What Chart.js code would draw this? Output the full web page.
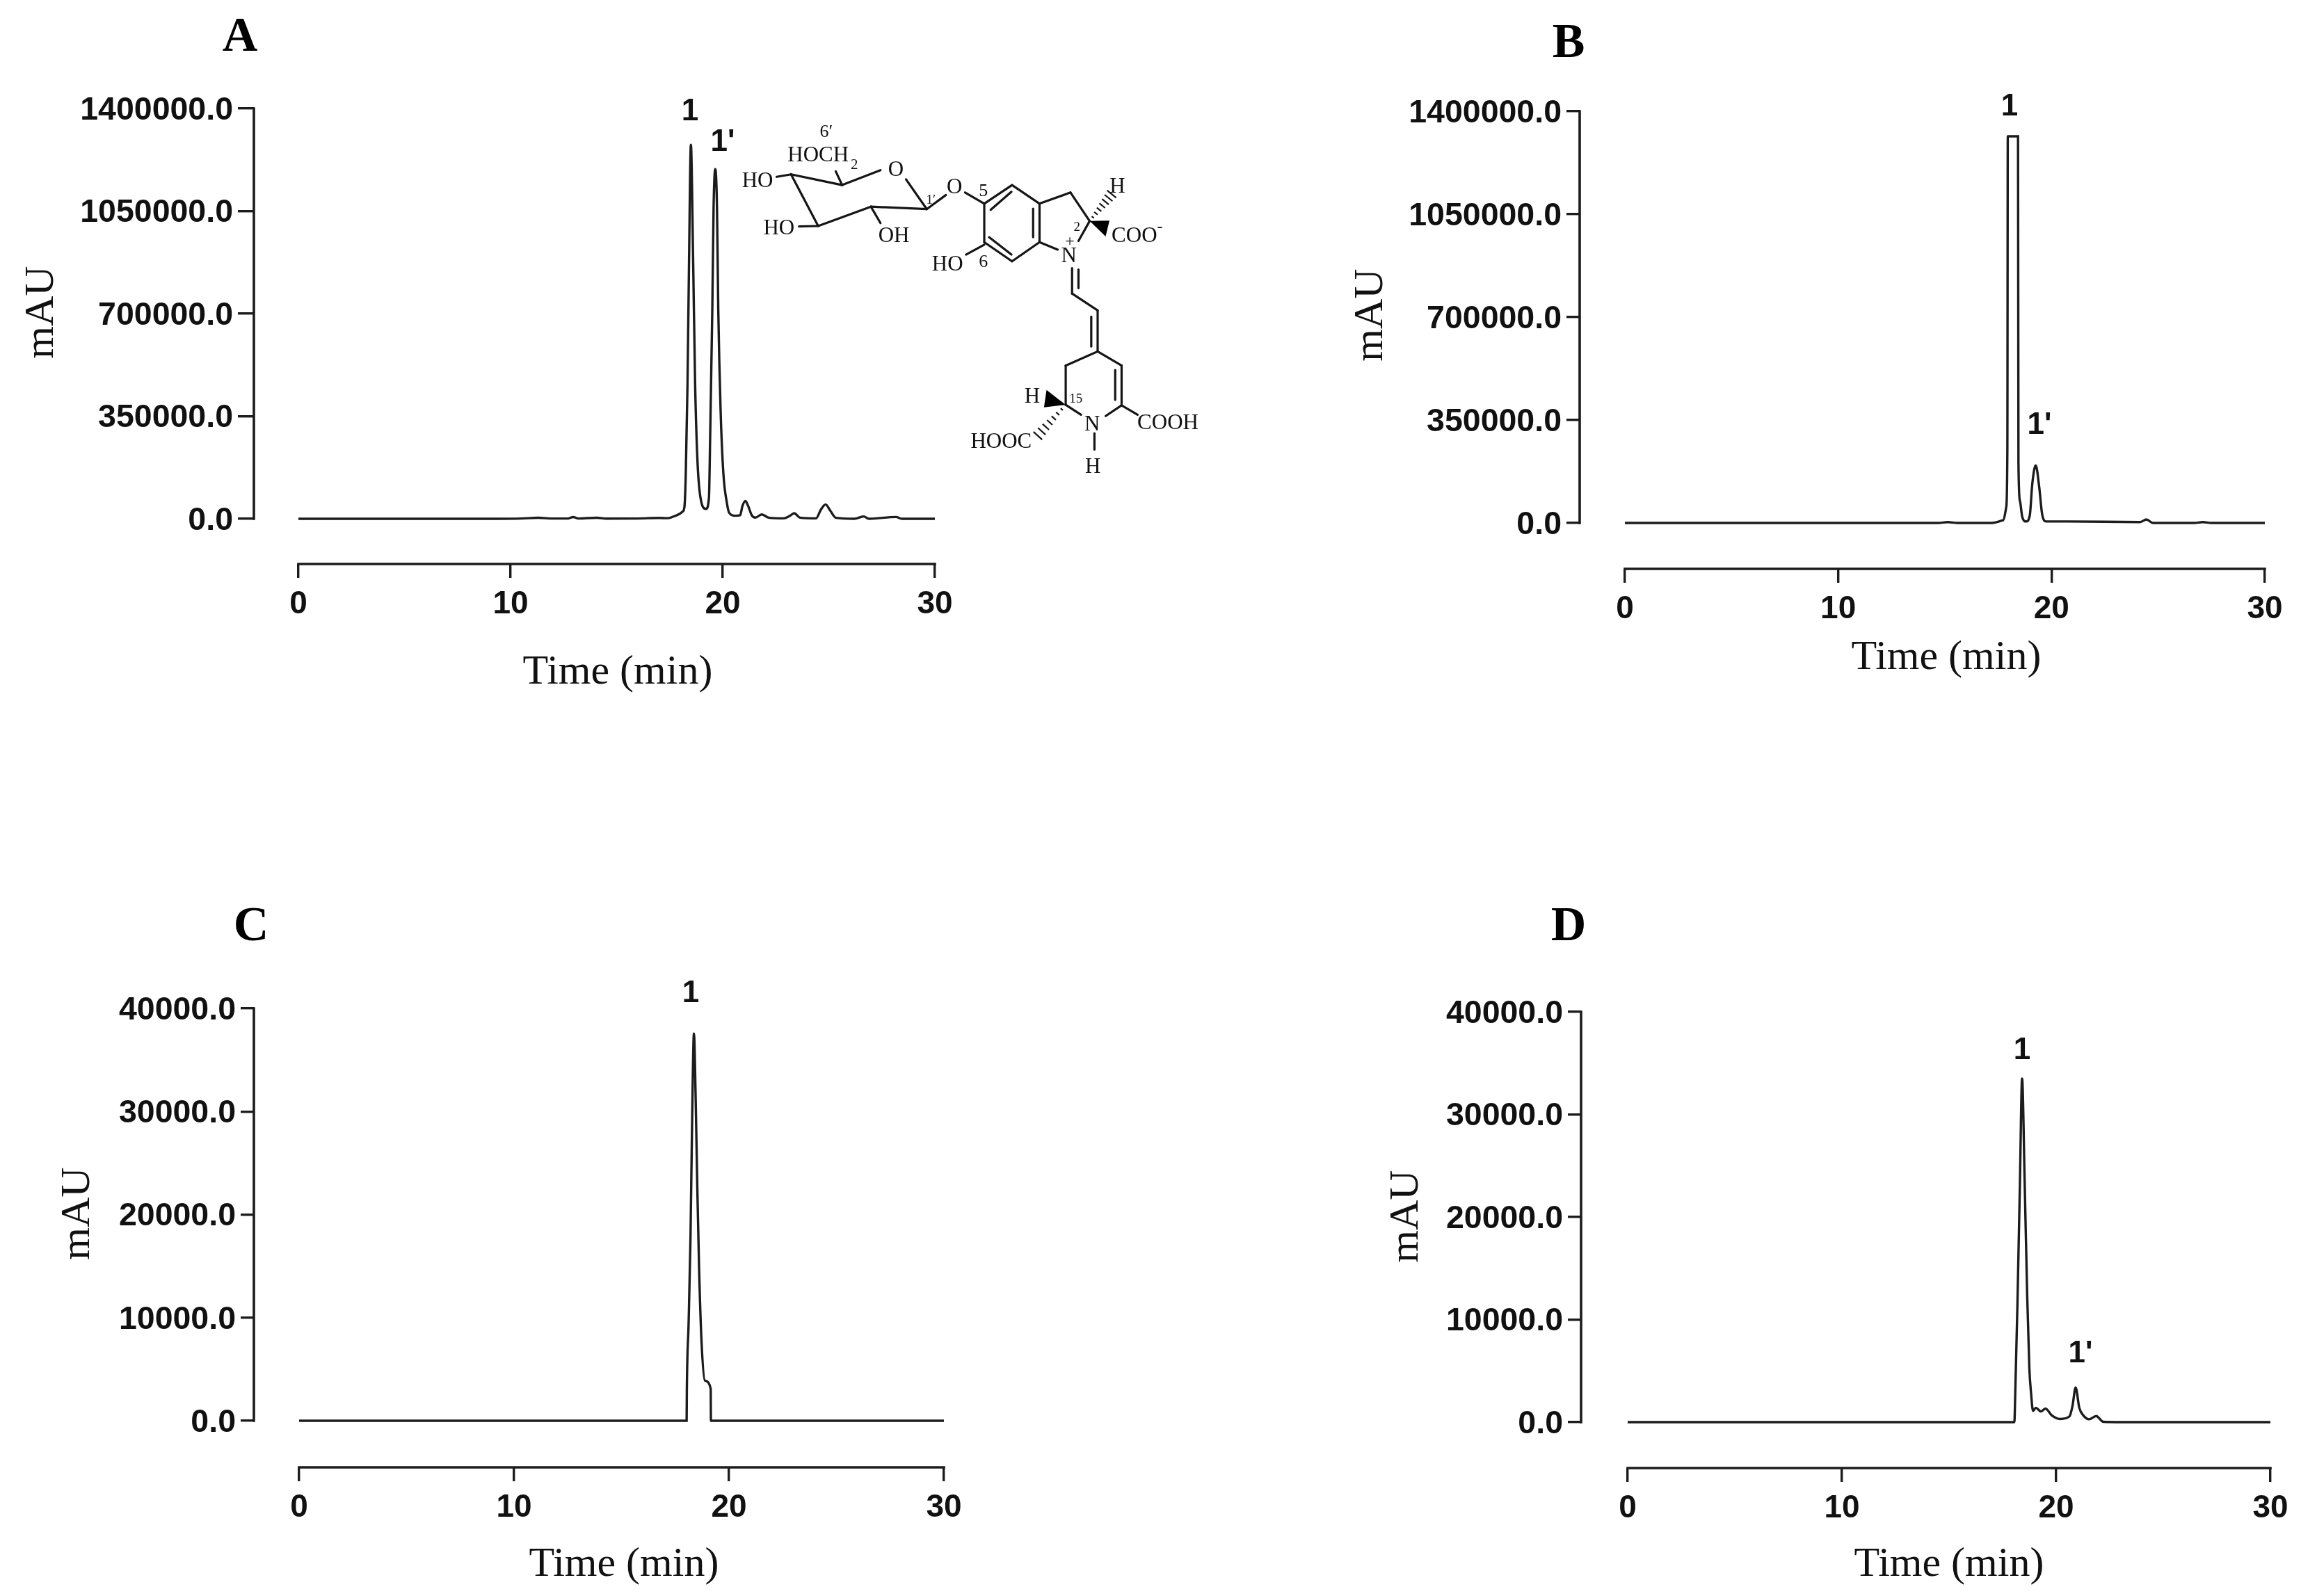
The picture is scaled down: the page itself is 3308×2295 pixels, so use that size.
<!DOCTYPE html>
<html><head><meta charset="utf-8">
<script src="https://cdn.jsdelivr.net/npm/chart.js@4"></script>
<style>
html,body{margin:0;padding:0;background:#fff;width:3308px;height:2295px;overflow:hidden}
canvas{position:absolute}
svg{position:absolute;left:0;top:0}
</style></head><body>
<script>
// ---- data ----
const xTicks = [0, 10, 20, 30];
const yTicksHigh = [0, 350000, 700000, 1050000, 1400000];
const yTicksLow = [0, 10000, 20000, 30000, 40000];

const timeA = [0,9,10.5,11.3,12,12.7,12.95,13.2,14.07,14.5,16,17,17.41,17.74,18.12,18.2,18.26,18.34,18.41,18.5,18.61,18.7,18.81,18.94,19.21,19.35,19.41,19.51,19.57,19.65,19.73,19.79,19.9,20.03,20.2,20.31,20.58,20.82,20.93,21.07,21.2,21.37,21.54,21.84,22.16,22.87,23.15,23.37,23.64,24.4,24.63,24.85,25.07,25.34,26.2,26.64,26.9,28.17,28.45,30];
const valuesA = [0,0,1000,3500,800,1000,6000,1000,3500,500,1000,3000,2000,9500,25000,44000,156000,458000,863000,1276000,863000,458000,198000,78000,33700,70000,286000,717000,1062000,1193000,1062000,717000,372000,156000,53000,19800,10300,11900,43500,60900,43500,11900,4000,15000,4000,1600,9500,19000,4000,1600,31600,49000,27700,3200,0,8000,0,6300,0,0];

const timeB = [0,14.7,15.13,15.6,17.2,17.74,17.88,17.93,17.95,18.43,18.45,18.52,18.63,18.81,18.98,19.1,19.26,19.42,19.56,19.75,20.77,24.15,24.45,24.75,26.7,27.09,27.5,30];
const valuesB = [0,0,3000,0,0,10000,55000,254000,1315000,1315000,204000,75000,20000,5000,25000,134000,196000,124000,30000,5000,5000,3000,12000,0,0,3000,0,0];

const timeC = [0,18.03,18.04,18.12,18.21,18.28,18.37,18.45,18.53,18.61,18.72,18.88,19.15,19.16,30];
const valuesC = [0,0,3000,9300,17760,28300,37560,31300,22300,14750,7800,3900,3100,0,0];

const timeD = [0,18.05,18.07,18.2,18.31,18.41,18.53,18.65,18.75,18.83,18.92,19.05,19.29,19.5,19.8,20.18,20.62,20.76,20.91,21.08,21.27,21.53,21.87,22.2,23.1,30];
const valuesD = [0,0,980,12200,23460,33500,23460,12200,5200,2800,1100,1400,1040,1320,650,310,560,1550,3370,1400,650,280,590,30,0,0];

const tickLabel = v => v.toFixed(1);
const xTitle = 'Time (min)';
const yTitle = 'mAU';
const SANS = '"Liberation Sans"';
const SERIF = '"Liberation Serif"';
const INK = '#1c1c1c';

// ---- layout (page pixels) ----
const panels = [
 {letter:'A',box:[0,0,1654,1147],  axisX:365, yTop:156,  y0:746,  axisY:811,  x0:429,  x30:1344, yTick:23, t:timeA,v:valuesA,ticks:yTicksHigh,max:1400000,
  letterAt:[345,55], yTitleAt:[60,449], xTitleAt:[888,967], peaks:[['1',992,161],["1'",1039,205]]},
 {letter:'B',box:[1654,0,1654,1147],axisX:2271,yTop:160,  y0:752,  axisY:818,  x0:2336, x30:3256, yTick:19, t:timeB,v:valuesB,ticks:yTicksHigh,max:1400000,
  letterAt:[2255,64], yTitleAt:[1971,453], xTitleAt:[2798,946], peaks:[['1',2889,154],["1'",2932,612]]},
 {letter:'C',box:[0,1147,1654,1148],axisX:365, yTop:1450, y0:2043, axisY:2110, x0:430,  x30:1357, yTick:19, t:timeC,v:valuesC,ticks:yTicksLow,max:40000,
  letterAt:[361,1334], yTitleAt:[112,1745], xTitleAt:[897,2250], peaks:[['1',993,1429]]},
 {letter:'D',box:[1654,1147,1654,1148],axisX:2273,yTop:1455,y0:2045, axisY:2111, x0:2340, x30:3264, yTick:19, t:timeD,v:valuesD,ticks:yTicksLow,max:40000,
  letterAt:[2255,1334], yTitleAt:[2022,1749], xTitleAt:[2802,2250], peaks:[['1',2907,1511],["1'",2991,1947]]}
];

function makePanel(p){
  const c = document.createElement('canvas');
  const [L,T,W,H] = p.box;
  c.style.left = L+'px'; c.style.top = T+'px';
  c.style.width = W+'px'; c.style.height = H+'px';
  c.width = W; c.height = H;
  document.body.appendChild(c);
  const overlay = {
    id:'overlay',
    afterDraw(ch){
      const g = ch.ctx, sx = ch.scales.x, sy = ch.scales.y;
      g.save();
      g.strokeStyle = INK; g.lineWidth = 3.6; g.lineCap = 'butt';
      g.beginPath();
      g.moveTo(sx.left, sy.getPixelForValue(0)+1.8);
      g.lineTo(sx.left, sy.getPixelForValue(p.max)-1.8);
      g.moveTo(sx.getPixelForValue(0)-1.8, sy.bottom);
      g.lineTo(sx.getPixelForValue(30)+1.8, sy.bottom);
      g.stroke();
      g.fillStyle = '#000'; g.textAlign='center'; g.textBaseline='middle';
      g.font = 'bold 70px '+SERIF;
      g.fillText(p.letter, p.letterAt[0]-L, p.letterAt[1]-T);
      g.fillStyle = '#111';
      g.font = 'bold 44px '+SANS;
      p.peaks.forEach(k => g.fillText(k[0], k[1]-L, k[2]-T));
      g.font = '60px '+SERIF;
      g.fillText(xTitle, p.xTitleAt[0]-L, p.xTitleAt[1]-T);
      g.translate(p.yTitleAt[0]-L, p.yTitleAt[1]-T);
      g.rotate(-Math.PI/2);
      g.fillText(yTitle, 0, 0);
      g.restore();
    }
  };
  new Chart(c, {
    type:'line',
    data:{datasets:[{
      data:p.t.map((x,i)=>({x,y:p.v[i]})),
      borderColor:INK, borderWidth:3.4, pointRadius:0, fill:false,
      cubicInterpolationMode:'monotone', clip:false
    }]},
    options:{
      responsive:false, animation:false, devicePixelRatio:1,
      layout:{padding:{left:0, top:p.yTop-T, right:L+W-p.x30, bottom:0}},
      plugins:{legend:{display:false}, tooltip:{enabled:false}, title:{display:false}},
      scales:{
        x:{type:'linear',
           min:-(p.x0-p.axisX)/(p.x30-p.x0)*30, max:30,
           afterBuildTicks:s=>{s.ticks=xTicks.map(value=>({value}));},
           afterFit:s=>{s.height=T+H-p.axisY;},
           border:{display:false},
           grid:{drawOnChartArea:false,drawTicks:true,tickLength:20,color:INK,lineWidth:3.4},
           ticks:{color:'#111',padding:11,maxRotation:0,autoSkip:false,
                  font:{family:SANS,size:46,weight:'bold'},callback:v=>String(v)}},
        y:{type:'linear',
           min:-(p.axisY-p.y0)/(p.y0-p.yTop)*p.max, max:p.max,
           afterBuildTicks:s=>{s.ticks=p.ticks.map(value=>({value}));},
           afterFit:s=>{s.width=p.axisX-L;},
           border:{display:false},
           grid:{drawOnChartArea:false,drawTicks:true,tickLength:p.yTick,color:INK,lineWidth:3.4},
           ticks:{color:'#111',padding:7,labelOffset:3,autoSkip:false,
                  font:{family:SANS,size:46.5,weight:'bold'},callback:tickLabel}}
      }
    },
    plugins:[overlay]
  });
}
panels.forEach(makePanel);

// ---- structure drawn inside panel A (crop coordinates mapped onto the page) ----
const mx = x => 1050 + x/2.178, my = y => 150 + y/2.8;
const bonds = [
 [190,282,350,325],[350,325,470,265],[550,302,615,422],[615,422,440,412],[440,412,275,490],[275,490,190,282],
 [350,325,330,270],[190,282,145,292],[275,490,215,492],[440,412,470,478],[615,422,675,365],[735,355,795,400],
 [795,400,882,325],[882,325,968,400],[968,400,968,555],[968,555,882,632],[882,632,795,555],[795,555,795,400],
 [815,425,880,352],[948,420,948,535],[810,535,880,605],[795,565,738,605],
 [968,400,1065,355],[1065,355,1125,470],[1125,470,1090,550],[968,555,1025,585],
 [1070,660,1070,762],[1090,665,1090,740],[1070,762,1150,830],[1150,830,1150,995],[1130,855,1130,975],
 [1150,995,1050,1052],[1050,1052,1050,1210],[1050,1210,1098,1250],
 [1150,995,1225,1052],[1225,1052,1225,1212],[1205,1070,1205,1190],[1225,1212,1175,1255],[1225,1212,1275,1250],
 [1140,1325,1140,1390]
];
const wedges = [[1125,470,1187,468,1175,532],[1050,1210,990,1150,982,1220]];
const hashes = [[1125,470,1200,352],[1050,1210,955,1345]];
const atoms = [
 ['6\u2032',300,108,26],['HOCH',275,200,31],['2',388,242,21],['O',518,258,31],['HO',85,305,31],['O',702,330,31],
 ['5',792,345,26],['1\u2032',628,382,19],['H',1212,325,31],['2',1085,490,19],['COO',1265,525,31],['-',1345,490,24],
 ['HO',152,495,31],['OH',512,525,31],['+',1063,548,24],['N',1060,607,31],['HO',680,640,31],['6',792,632,26],
 ['H',945,1172,31],['15',1082,1182,19],['COOH',1370,1278,31],['N',1133,1285,31],['HOOC',848,1355,31],['H',1135,1455,31]
];
const NS='http://www.w3.org/2000/svg';
const svg=document.createElementNS(NS,'svg');
svg.setAttribute('width','3308');svg.setAttribute('height','2295');
function el(n,a,t){const e=document.createElementNS(NS,n);for(const k in a)e.setAttribute(k,a[k]);if(t)e.textContent=t;svg.appendChild(e);}
bonds.forEach(b=>el('line',{x1:mx(b[0]),y1:my(b[1]),x2:mx(b[2]),y2:my(b[3]),stroke:'#151515','stroke-width':3.2,'stroke-linecap':'round'}));
wedges.forEach(w=>el('polygon',{points:[[w[0],w[1]],[w[2],w[3]],[w[4],w[5]]].map(q=>mx(q[0])+','+my(q[1])).join(' '),fill:'#000'}));
hashes.forEach(h=>{
  const ax=mx(h[0]),ay=my(h[1]),bx=mx(h[2]),by=my(h[3]),dx=bx-ax,dy=by-ay,len=Math.hypot(dx,dy),nx=-dy/len,ny=dx/len;
  for(let i=1;i<=7;i++){const f=i/7*0.92,cx=ax+dx*f,cy=ay+dy*f,r=1+8*f;
    el('line',{x1:cx-nx*r,y1:cy-ny*r,x2:cx+nx*r,y2:cy+ny*r,stroke:'#151515','stroke-width':2.2});}
});
atoms.forEach(a=>el('text',{x:mx(a[1]),y:my(a[2]),'text-anchor':'middle','dominant-baseline':'central','font-family':SERIF.replace(/"/g,''),'font-size':a[3],fill:'#111'},a[0]));
document.body.appendChild(svg);
</script>
</body></html>
